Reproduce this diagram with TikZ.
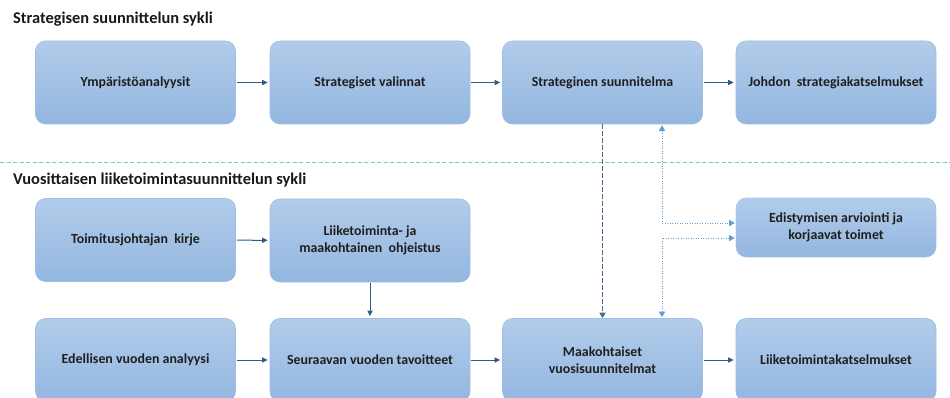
\documentclass[tikz,border=0pt]{standalone}
\usepackage{fontspec}
\setmainfont{Carlito}
\usetikzlibrary{arrows.meta,positioning}
\definecolor{boxtop}{HTML}{B2CCEA}
\definecolor{boxbot}{HTML}{93B6E0}
\definecolor{boxline}{HTML}{9DBDE3}
\definecolor{arrowdark}{HTML}{2E5A88}
\definecolor{dashdark}{HTML}{44698F}
\definecolor{dotlight}{HTML}{5F9FD8}
\definecolor{sepgreen}{HTML}{7ECF9E}
\newcommand{\wsp}{\hspace{0.45em}}
\tikzset{
  stage/.style={rectangle, rounded corners=10pt, draw=boxline, line width=0.6pt,
    top color=boxtop, bottom color=boxbot, minimum width=200pt, minimum height=83pt,
    align=center, font=\fontsize{13.9}{16.5}\selectfont\bfseries, text=black!88, inner sep=2pt},
  review/.style={stage, minimum height=59pt, dash pattern=on 1.5pt off 1pt},
  heading/.style={anchor=base west, font=\fontsize{16.4}{19}\selectfont\bfseries, text=black!90, inner sep=0pt},
  flow/.style={draw=arrowdark, line width=1pt, -{Triangle[length=5.5pt,width=5pt]}, shorten >=2pt, shorten <=1pt},
  planlink/.style={draw=dashdark, line width=1.6pt, dash pattern=on 4.5pt off 2.5pt, -{Triangle[length=5.5pt,width=6pt]}},
  feedback/.style={draw=dotlight, line width=1pt, dash pattern=on 1.3pt off 1.2pt,
    {Triangle[length=5.5pt,width=6pt]}-{Triangle[length=5.5pt,width=6pt]}},
}
\begin{document}
\begin{tikzpicture}[x=1pt,y=-1pt]
\useasboundingbox (0,0) rectangle (950,398);
\begin{scope}
\clip (0,0) rectangle (950,398);

% section titles and separator
\node[heading] (t1) at (13,24) {Strategisen suunnittelun sykli};
\node[heading] (t2) at (13,185) {Vuosittaisen liiketoimintasuunnittelun sykli};
\coordinate (sepL) at (0,162);
\coordinate (sepR) at (950,162);
\draw[sepgreen, line width=0.8pt, dash pattern=on 4pt off 2.5pt] (sepL) -- (sepR);

% strategic cycle
\node[stage] (a1) at (135.5,82.5) {Ympäristöanalyysit};
\node[stage] (a2) at (370,82.5) {Strategiset valinnat};
\node[stage] (a3) at (602.5,82.5) {Strateginen suunnitelma};
\node[stage] (a4) at (836,82.5) {Johdon\wsp strategiakatselmukset};

% annual business planning cycle
\node[stage] (b1) at (135.5,240) {Toimitusjohtajan\wsp kirje};
\node[stage] (b2) at (370,240.5) {Liiketoiminta- ja\\maakohtainen\wsp ohjeistus};
\node[review] (ev) at (836,227.5) {Edistymisen arviointi ja\\korjaavat toimet};

\node[stage] (c1) at (135.5,360) {Edellisen vuoden analyysi};
\node[stage] (c2) at (370,360) {Seuraavan vuoden tavoitteet};
\node[stage] (c3) at (602.5,360) {Maakohtaiset\\vuosisuunnitelmat};
\node[stage] (c4) at (836,360) {Liiketoimintakatselmukset};

% main flow
\draw[flow] (a1) -- (a2);
\draw[flow] (a2) -- (a3);
\draw[flow] (a3) -- (a4);
\draw[flow] (b1) -- (b2);
\draw[flow] (b2) -- (c2);
\draw[flow] (c1) -- (c2);
\draw[flow] (c2) -- (c3);
\draw[flow] (c3) -- (c4);

% strategy feeds the annual plans
\draw[planlink] (a3.south) -- (c3.north);

% progress review loops
\draw[feedback] ([xshift=59.5pt,yshift=-1pt]a3.south) |- ([yshift=4.5pt,xshift=-1pt]ev.west);
\draw[feedback] ([xshift=59.5pt,yshift=1pt]c3.north) |- ([yshift=-10.5pt,xshift=-1pt]ev.west);
\end{scope}
\end{tikzpicture}
\end{document}
